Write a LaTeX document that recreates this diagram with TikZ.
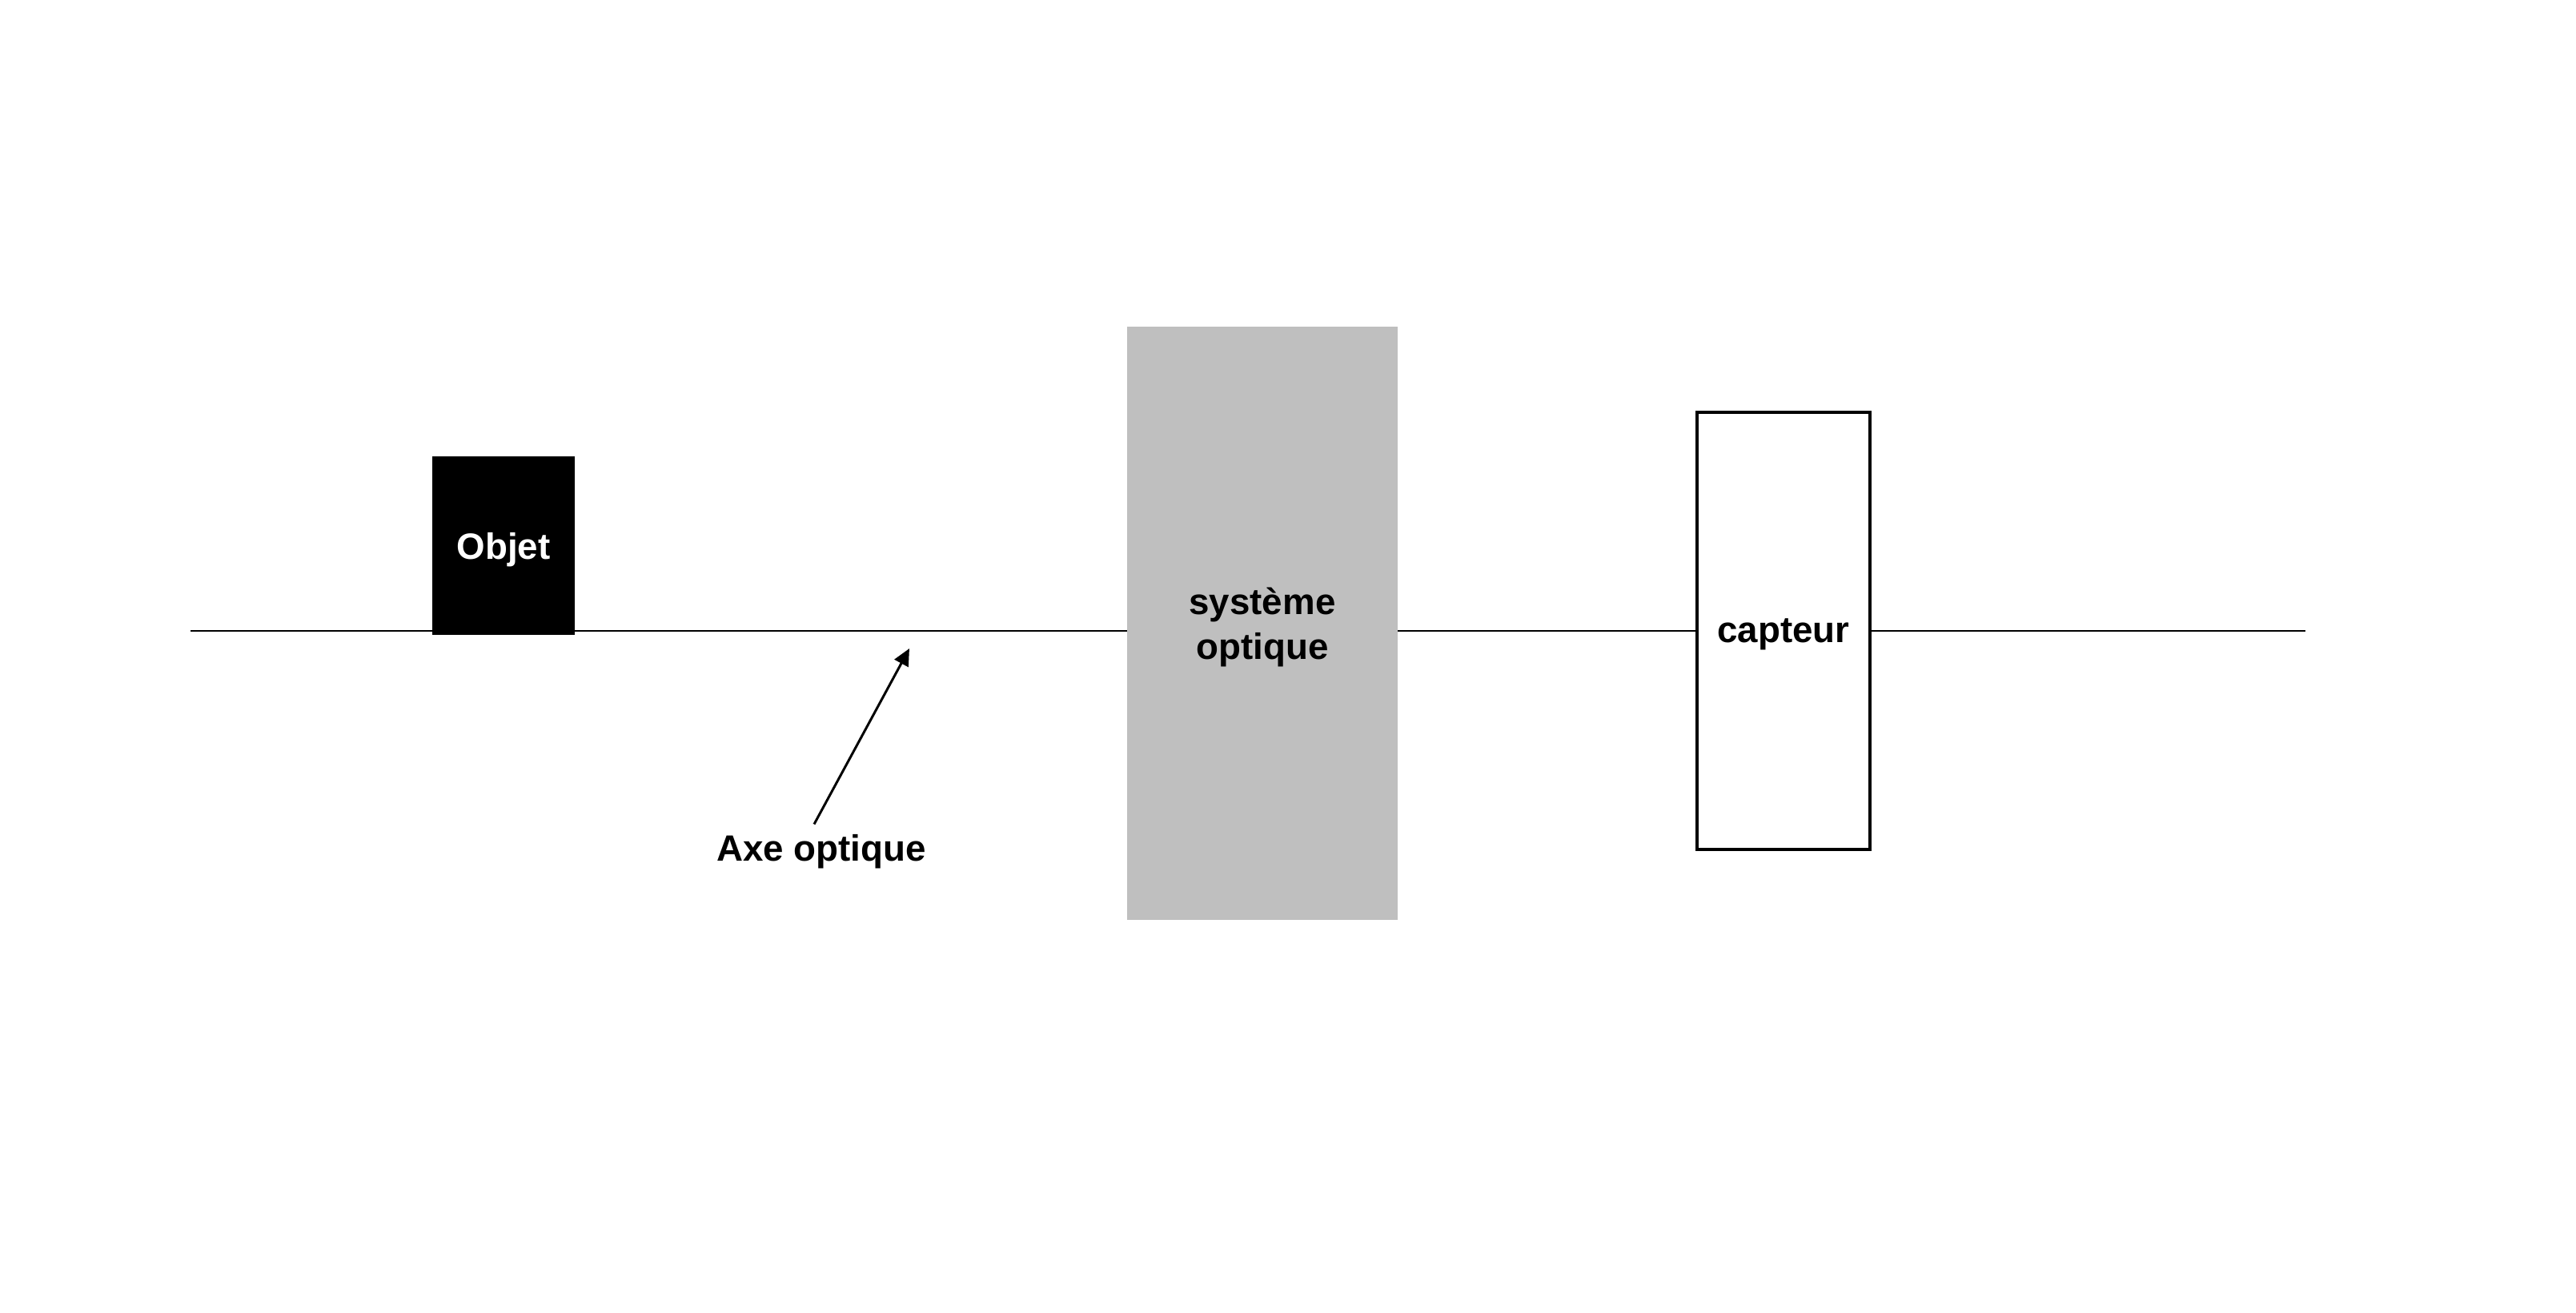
\documentclass[tikz,border=0pt]{standalone}
\usepackage{fontspec}
\setmainfont{Liberation Sans}
\usetikzlibrary{arrows.meta}
\definecolor{optgray}{HTML}{BFBFBF}
\begin{document}
\begin{tikzpicture}[font=\fontsize{13}{16}\selectfont\bfseries]
    \useasboundingbox (0,0) rectangle (32.18,-16.40);
    \tikzstyle{objbox} = [rectangle, minimum width=1.78cm, minimum height=2.23cm, text centered, text depth=0pt, fill=black, text=white]
    \tikzstyle{sysbox} = [rectangle, minimum width=3.38cm, minimum height=7.41cm, text centered, text depth=0pt, align=center, fill=optgray]
    \tikzstyle{capbox} = [rectangle, minimum width=2.16cm, minimum height=5.46cm, text centered, text depth=0pt, draw=black, line width=1pt, fill=white]
    \coordinate (axL) at (2.38,-7.88);
    \coordinate (axR) at (28.80,-7.88);
    \draw [line width=0.7pt] (axL) -- (axR);
    \node (objet) [objbox] at (6.29,-6.815) {Objet};
    \node (sys) [sysbox] at (15.77,-7.785) {système\\optique};
    \node (capteur) [capbox] at (22.28,-7.88) {capteur};
    \node (axe) [anchor=base] at (10.26,-10.75) {Axe optique};
    \coordinate (tip) at (11.36,-8.10);
    \draw [-{Triangle[length=6pt,width=5.5pt]}, line width=0.85pt] ([xshift=-0.09cm]axe.north) -- (tip);
\end{tikzpicture}
\end{document}
